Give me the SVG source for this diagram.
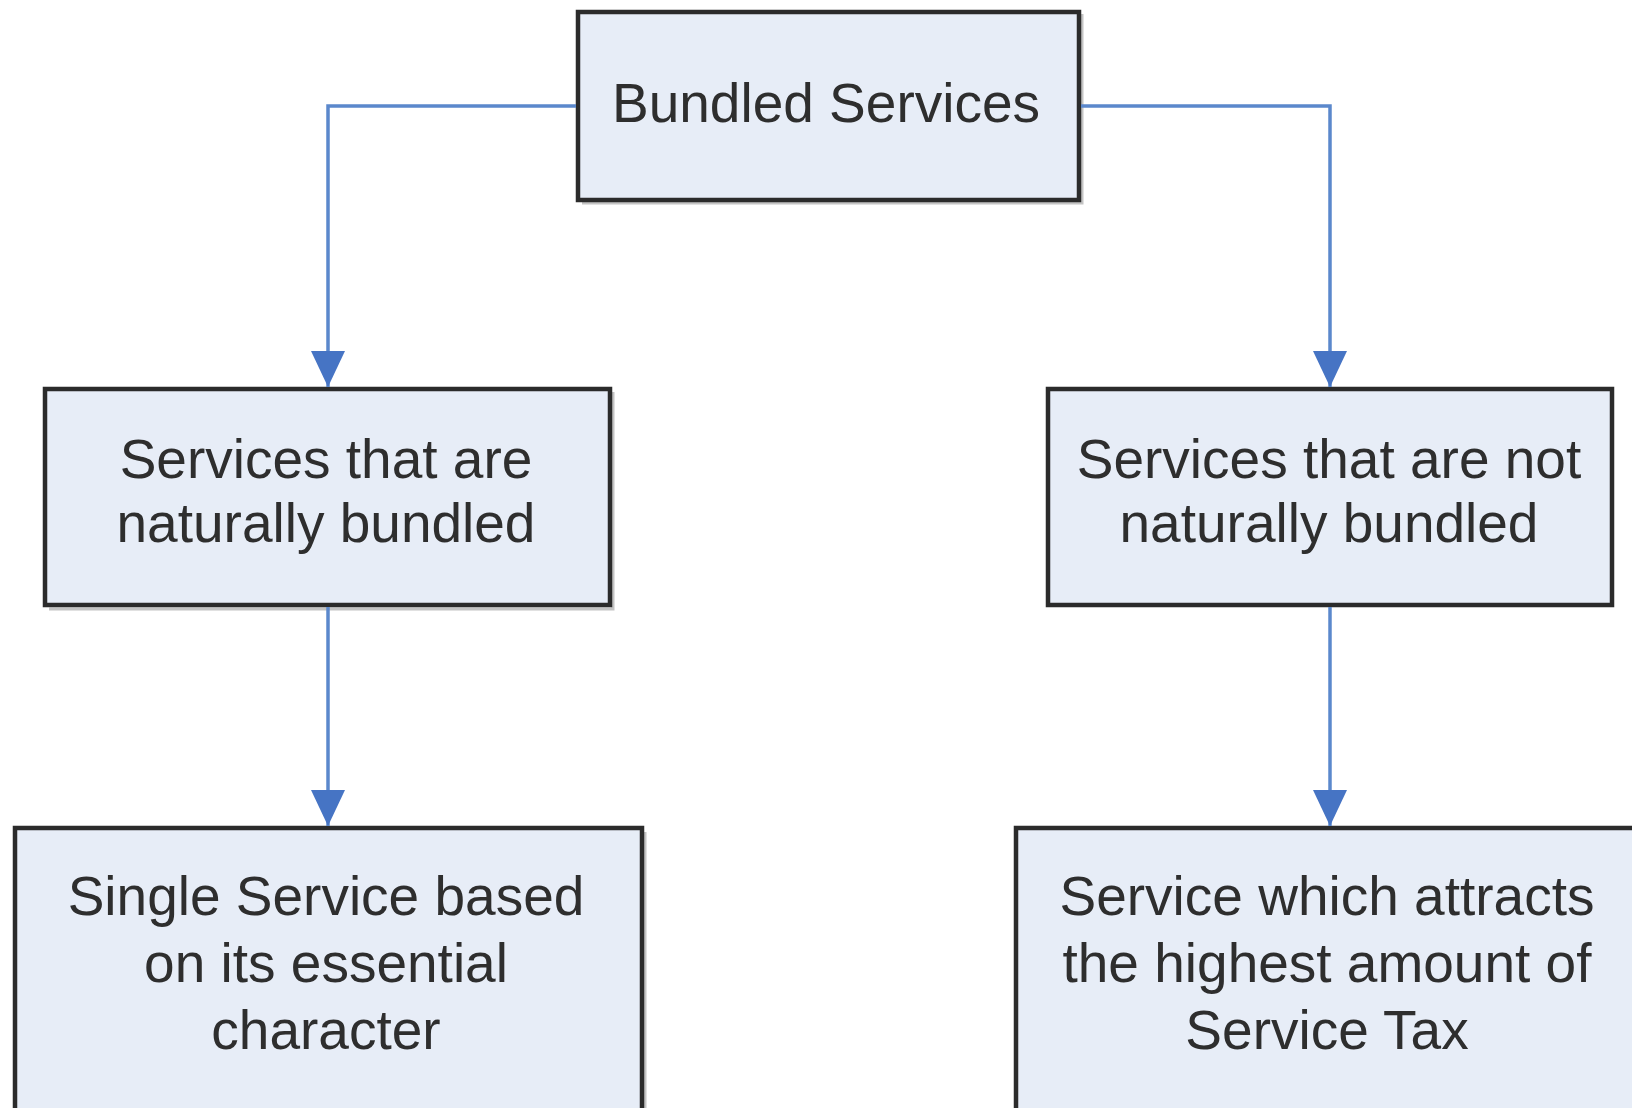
<svg xmlns="http://www.w3.org/2000/svg" width="1632" height="1108" viewBox="0 0 1632 1108">
<defs>
<style>
.box{fill:#e7edf7;stroke:#2b2b2b;stroke-width:4.5}
.shadow{fill:none;stroke:#c4c4c4;stroke-width:3}
.lbl{font-family:"Liberation Sans",Arial,sans-serif;font-size:55px;fill:#2e2e2e;text-anchor:middle}
.conn{fill:none;stroke:#5b88cc;stroke-width:3.5}
</style>
<marker id="arr" viewBox="0 0 36 34" refX="36" refY="17" markerWidth="36" markerHeight="34" markerUnits="userSpaceOnUse" orient="auto">
<path d="M0,0 L36,17 L0,34 z" fill="#4674c4"/>
</marker>
</defs>
<rect width="1632" height="1108" fill="#ffffff"/>
<g id="n-bundled">
<path class="shadow" d="M1082,14 V203 H582"/>
<rect class="box" x="578" y="12" width="501" height="188"/>
<text class="lbl" x="826" y="122">Bundled Services</text>
</g>
<g id="n-natural">
<path class="shadow" d="M613,392 V609 H49"/>
<rect class="box" x="45" y="389" width="565" height="216"/>
<text class="lbl" x="326" y="478">Services that are</text>
<text class="lbl" x="326" y="542">naturally bundled</text>
</g>
<g id="n-notnatural">
<rect class="box" x="1048" y="389" width="564" height="216"/>
<text class="lbl" x="1329" y="478">Services that are not</text>
<text class="lbl" x="1329" y="542">naturally bundled</text>
</g>
<g id="n-single">
<path class="shadow" d="M645,832 V1112"/>
<rect class="box" x="15" y="828" width="627" height="300"/>
<text class="lbl" x="326" y="915">Single Service based</text>
<text class="lbl" x="326" y="982">on its essential</text>
<text class="lbl" x="326" y="1049">character</text>
</g>
<g id="n-highest">
<rect class="box" x="1016" y="828" width="640" height="300"/>
<text class="lbl" x="1327" y="915">Service which attracts</text>
<text class="lbl" x="1327" y="982">the highest amount of</text>
<text class="lbl" x="1327" y="1049">Service Tax</text>
</g>
<g id="connectors">
<path class="conn" d="M576,106 H328 V387" marker-end="url(#arr)"/>
<path class="conn" d="M1081,106 H1330 V387" marker-end="url(#arr)"/>
<path class="conn" d="M328,607 V826" marker-end="url(#arr)"/>
<path class="conn" d="M1330,607 V826" marker-end="url(#arr)"/>
</g>
</svg>
